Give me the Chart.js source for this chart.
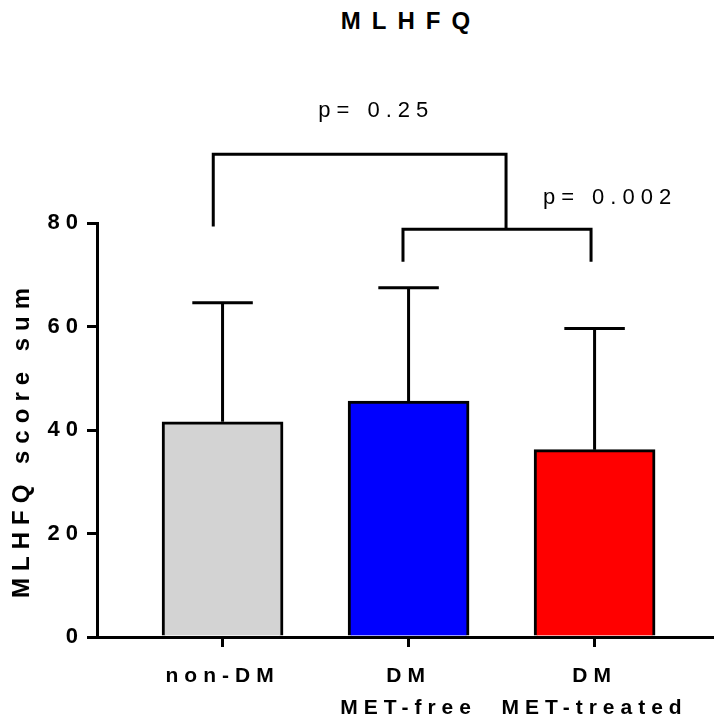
<!DOCTYPE html>
<html lang="en">
<head>
<meta charset="UTF-8">
<title>MLHFQ</title>
<script src="https://cdn.jsdelivr.net/npm/chart.js"></script>
<style>
    html, body { margin: 0; padding: 0; background: #fff; }
    .wrap { position: relative; width: 714px; height: 721px; }
    .chart-title {
        position: absolute; top: 9px; left: 97px; width: 617px;
        box-sizing: border-box; padding-left: 11px;
        text-align: center; color: #000;
        font: bold 24px "Liberation Sans", Arial, sans-serif;
        line-height: 24px; letter-spacing: 11px;
    }
    canvas { position: absolute; left: 0; top: 0; }
</style>
</head>
<body>
<div class="wrap">
    <div class="chart-title">MLHFQ</div>
    <canvas id="mlhfqChart" width="714" height="721"></canvas>
</div>

<script>
    const groups = [['non-DM'], ['DM', 'MET-free'], ['DM', 'MET-treated']];
    const meanScores = [41.6, 45.6, 36.2];
    const sdTops = [64.6, 67.5, 59.6];       // mean + SD
    const yTicks = [0, 20, 40, 60, 80];
    const yTitle = 'MLHFQ score sum';

    // comparison brackets, in axis units: [x start, x end, top, left leg end, right leg end]
    const brackets = [
        [0.95, 2.524, 93.3, 79.3, 78.8],
        [1.97, 2.981, 78.8, 72.5, 72.5]
    ];
    const pLabels = ['p= 0.25', 'p= 0.002'];
    const pAt = [[1.81, 101.6], [3.067, 84.8]];   // label centres in axis units

    const FONT = '"Liberation Sans", Arial, sans-serif';

    // error bars, brackets, p values and the y title
    const extras = {
        id: 'extras',
        beforeDraw(chart) {
            chart.ctx.letterSpacing = '6px';   // prism-style spaced tick labels
        },
        afterDatasetsDraw(chart) {
            const { ctx, scales: { y } } = chart;
            ctx.save();
            ctx.strokeStyle = '#000';
            ctx.lineWidth = 3;
            chart.getDatasetMeta(0).data.forEach((bar, i) => {
                const top = y.getPixelForValue(sdTops[i]);
                const half = bar.width / 4;
                ctx.beginPath();
                ctx.moveTo(bar.x, bar.y);
                ctx.lineTo(bar.x, top);
                ctx.moveTo(bar.x - half, top);
                ctx.lineTo(bar.x + half, top);
                ctx.stroke();
            });
            ctx.restore();
        },
        afterDraw(chart) {
            const { ctx, scales: { x, y } } = chart;
            ctx.save();
            ctx.strokeStyle = '#000';
            ctx.fillStyle = '#000';
            ctx.lineWidth = 3;
            ctx.lineJoin = 'miter';
            brackets.forEach(b => {
                ctx.beginPath();
                ctx.moveTo(x.getPixelForValue(b[0]), y.getPixelForValue(b[3]));
                ctx.lineTo(x.getPixelForValue(b[0]), y.getPixelForValue(b[2]));
                ctx.lineTo(x.getPixelForValue(b[1]), y.getPixelForValue(b[2]));
                ctx.lineTo(x.getPixelForValue(b[1]), y.getPixelForValue(b[4]));
                ctx.stroke();
            });

            ctx.font = '22px ' + FONT;
            ctx.letterSpacing = '6px';
            ctx.textAlign = 'center';
            ctx.textBaseline = 'middle';
            pLabels.forEach((t, i) => {
                ctx.fillText(t, x.getPixelForValue(pAt[i][0]) + 3, y.getPixelForValue(pAt[i][1]));
            });

            ctx.font = 'bold 24px ' + FONT;
            ctx.letterSpacing = '7px';
            ctx.translate(22, y.getPixelForValue(37.5));
            ctx.rotate(-Math.PI / 2);
            ctx.fillText(yTitle, 3.5, 0);
            ctx.restore();
        }
    };

    const chart = new Chart(document.getElementById('mlhfqChart'), {
        type: 'bar',
        data: {
            datasets: [{
                data: meanScores.map((v, i) => ({ x: i + 1, y: v })),
                backgroundColor: ['#d3d3d3', '#0000ff', '#ff0000'],
                borderColor: '#000',
                borderWidth: 3,
                barThickness: 121
            }]
        },
        options: {
            responsive: false,
            animation: false,
            devicePixelRatio: 1,
            layout: { padding: { top: 223, right: 0, bottom: 0, left: 0 } },
            plugins: {
                legend: { display: false },
                tooltip: { enabled: false }
            },
            scales: {
                x: {
                    type: 'linear',
                    offset: false,
                    min: 0.325,
                    max: 3.642,
                    afterBuildTicks: s => { s.ticks = groups.map((g, i) => ({ value: i + 1 })); },
                    afterFit: s => { s.height = 84; },
                    grid: { offset: false, drawOnChartArea: false, color: '#000', lineWidth: 3, tickLength: 10 },
                    border: { color: '#000', width: 3 },
                    ticks: {
                        callback: v => groups[v - 1],
                        autoSkip: false,
                        maxRotation: 0,
                        padding: 13,
                        color: '#000',
                        font: { family: FONT, size: 21, weight: 'bold', lineHeight: 32 / 21 }
                    }
                },
                y: {
                    min: 0,
                    max: 80,
                    afterBuildTicks: s => { s.ticks = yTicks.map(v => ({ value: v })); },
                    afterFit: s => { s.width = 97; },
                    grid: { drawOnChartArea: false, color: '#000', lineWidth: 3, tickLength: 10 },
                    border: { color: '#000', width: 3 },
                    ticks: {
                        padding: 3,
                        color: '#000',
                        font: { family: FONT, size: 22, weight: 'bold' }
                    }
                }
            }
        },
        plugins: [extras]
    });
</script>
</body>
</html>
